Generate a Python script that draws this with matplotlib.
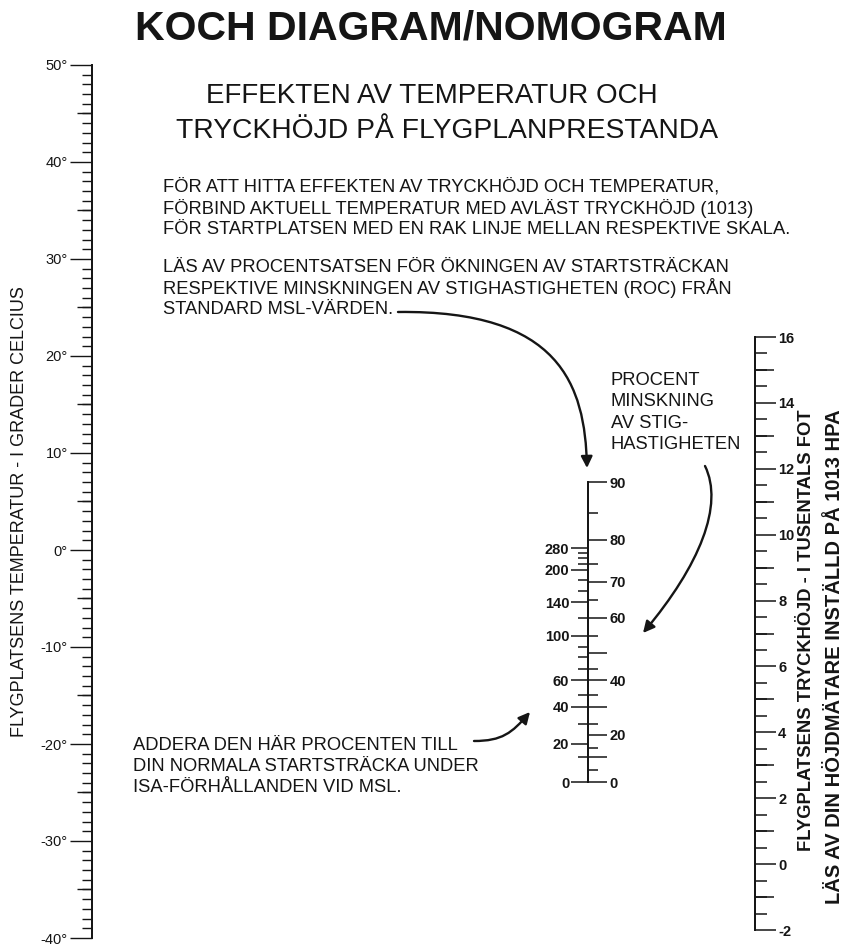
import numpy as np
import matplotlib
matplotlib.use("Agg")
import matplotlib.pyplot as plt
from matplotlib.path import Path
from matplotlib.patches import FancyArrowPatch

plt.rcParams['font.family'] = ['Liberation Sans', 'DejaVu Sans']

INK = '#151515'
W, H = 845, 947

# --- Skalor (avlästa från nomogrammet) ---
# Temperaturskala, grader Celsius
TEMP_LIMITS = (-40, 50)
TEMP_LABELED = np.arange(-40, 51, 10)
TEMP_FIVES = np.arange(-35, 50, 10)
TEMP_ONES = np.arange(-40, 51, 1)

# Tryckhöjd, tusentals fot
ALT_LIMITS = (-2, 16)
ALT_LABELED = np.arange(-2, 17, 2)
ALT_ODD = np.arange(-1, 16, 2)
ALT_HALF = np.arange(-2, 16.01, 0.5)

# Mittskalan: procent minskning av stighastighet (höger sida)
# höjd = relativ position längs skalan (0 = botten, 1 = toppen)
ROC_VALUES = [0, 5, 10, 15, 20, 25, 30, 35, 40, 45, 50, 55, 60, 65, 70, 75, 80, 85, 90]
ROC_HEIGHT = [0.0, 0.040, 0.083, 0.113, 0.157, 0.193, 0.250, 0.290, 0.340, 0.377,
              0.430, 0.487, 0.547, 0.607, 0.667, 0.727, 0.807, 0.897, 1.0]
ROC_LABELED = [0, 20, 40, 60, 70, 80, 90]

# Mittskalan: procent ökning av startsträcka (vänster sida)
TAKEOFF_VALUES = [0, 10, 20, 30, 40, 50, 60, 70, 80, 90, 100, 120, 140, 160, 180,
                  200, 220, 240, 260, 280]
TAKEOFF_HEIGHT = [0.0, 0.083, 0.127, 0.192, 0.250, 0.290, 0.340, 0.377, 0.417, 0.450,
                  0.487, 0.547, 0.600, 0.637, 0.673, 0.707, 0.727, 0.747, 0.763, 0.780]
TAKEOFF_LABELED = [0, 20, 40, 60, 100, 140, 200, 280]


def interp_ext(x, xp, fp):
    """np.interp med linjär extrapolering utanför ändpunkterna."""
    x = np.asarray(x, dtype=float)
    xp = np.asarray(xp, dtype=float)
    fp = np.asarray(fp, dtype=float)
    y = np.interp(x, xp, fp)
    hi_slope = (fp[-1] - fp[-2]) / (xp[-1] - xp[-2])
    lo_slope = (fp[1] - fp[0]) / (xp[1] - xp[0])
    y = np.where(x > xp[-1], fp[-1] + (x - xp[-1]) * hi_slope, y)
    y = np.where(x < xp[0], fp[0] + (x - xp[0]) * lo_slope, y)
    return y


def scale_axes(fig, x, y_top, y_bot):
    # smal axes vars spine blir själva skalan
    ax = fig.add_axes([x / W, 1 - y_bot / H, 1e-4, (y_bot - y_top) / H])
    ax.set_xticks([])
    for s in ax.spines.values():
        s.set_visible(False)
    ax.patch.set_visible(False)
    return ax


fig = plt.figure(figsize=(W / 100, H / 100), dpi=100)
fig.patch.set_facecolor('white')

# 1. Temperaturskala (vänster)
ax_t = scale_axes(fig, 92, 65, 938)
ax_t.set_ylim(*TEMP_LIMITS)
ax_t.spines['left'].set_visible(True)
ax_t.spines['left'].set_linewidth(1.3)
ax_t.spines['left'].set_color(INK)
ax_t.set_yticks(TEMP_LABELED, [f'{v}°' for v in TEMP_LABELED])
ax_t.set_yticks(TEMP_ONES, minor=True)
ax_t.tick_params(axis='y', which='major', direction='out', length=16, width=1.0,
                 pad=1.5, labelsize=10.5, colors=INK)
ax_t.tick_params(axis='y', which='minor', direction='out', length=7, width=1.0, colors=INK)
t_five = ax_t.secondary_yaxis('left')
t_five.set_ticks(TEMP_FIVES)
t_five.tick_params(axis='y', length=11, width=1.0, labelleft=False, colors=INK)
t_five.spines['left'].set_linewidth(1.3)
t_five.spines['left'].set_color(INK)

# 2. Tryckhöjdsskala (höger)
ax_a = scale_axes(fig, 755, 337, 930)
ax_a.set_ylim(*ALT_LIMITS)
ax_a.spines['right'].set_visible(True)
ax_a.spines['right'].set_linewidth(1.3)
ax_a.spines['right'].set_color(INK)
ax_a.yaxis.tick_right()
ax_a.set_yticks(ALT_LABELED, [str(v) for v in ALT_LABELED])
ax_a.set_yticks(ALT_HALF, minor=True)
ax_a.tick_params(axis='y', which='major', direction='out', length=15, width=1.1,
                 pad=1.5, labelsize=10.5, labelcolor=INK, colors=INK)
ax_a.tick_params(axis='y', which='minor', direction='out', length=8.5, width=1.1, colors=INK)
for lab in ax_a.get_yticklabels():
    lab.set_fontweight('bold')
a_odd = ax_a.secondary_yaxis('right')
a_odd.set_ticks(ALT_ODD)
a_odd.tick_params(axis='y', length=13.5, width=1.1, labelright=False, colors=INK)
a_odd.spines['right'].set_linewidth(1.3)
a_odd.spines['right'].set_color(INK)

# 3. Mittskalan
ax_m = scale_axes(fig, 588, 482, 782)
ax_m.set_ylim(0, 1)
ax_m.set_yticks([])

roc = ax_m.secondary_yaxis('right', functions=(
    lambda h: interp_ext(h, ROC_HEIGHT, ROC_VALUES),
    lambda v: interp_ext(v, ROC_VALUES, ROC_HEIGHT)))
roc_major = [v for v in ROC_VALUES if v % 10 == 0]
roc.set_ticks(roc_major, labels=[str(v) if v in ROC_LABELED else '' for v in roc_major])
roc.set_ticks([v for v in ROC_VALUES if v % 10 != 0], minor=True)
roc.tick_params(axis='y', which='major', length=14, width=1.1, pad=1.5,
                labelsize=10.5, colors=INK)
roc.tick_params(axis='y', which='minor', length=7, width=1.1, colors=INK)
roc.spines['right'].set_linewidth(1.3)
roc.spines['right'].set_color(INK)

tko = ax_m.secondary_yaxis('left', functions=(
    lambda h: interp_ext(h, TAKEOFF_HEIGHT, TAKEOFF_VALUES),
    lambda v: interp_ext(v, TAKEOFF_VALUES, TAKEOFF_HEIGHT)))
tko.set_ticks(TAKEOFF_LABELED, labels=[str(v) for v in TAKEOFF_LABELED])
tko.set_ticks([v for v in TAKEOFF_VALUES if v not in TAKEOFF_LABELED], minor=True)
tko.tick_params(axis='y', which='major', length=12, width=1.1, pad=1.5,
                labelsize=10.5, colors=INK)
tko.tick_params(axis='y', which='minor', length=7, width=1.1, colors=INK)
tko.spines['left'].set_linewidth(1.3)
tko.spines['left'].set_color(INK)
for sec in (roc, tko):
    for lab in sec.get_yticklabels():
        lab.set_fontweight('bold')

# 4. Texter och pilar (pixelkoordinater)
ov = fig.add_axes([0, 0, 1, 1], zorder=5)
ov.set_xlim(0, W)
ov.set_ylim(H, 0)
ov.axis('off')

ov.text(431, 28, 'KOCH DIAGRAM/NOMOGRAM', ha='center', va='center',
        fontsize=29.5, fontweight='bold', color=INK)
ov.text(432, 96, 'EFFEKTEN AV TEMPERATUR OCH', ha='center', va='center',
        fontsize=20, color=INK)
ov.text(447, 131, 'TRYCKHÖJD PÅ FLYGPLANPRESTANDA', ha='center', va='center',
        fontsize=20.3, color=INK)


def block(x, y0, lines, step=21, **kw):
    for i, line in enumerate(lines):
        ov.text(x, y0 + i * step, line, ha='left', va='center', color=INK, **kw)


BODY = 13.2
block(163, 187, ['FÖR ATT HITTA EFFEKTEN AV TRYCKHÖJD OCH TEMPERATUR,',
                 'FÖRBIND AKTUELL TEMPERATUR MED AVLÄST TRYCKHÖJD (1013)',
                 'FÖR STARTPLATSEN MED EN RAK LINJE MELLAN RESPEKTIVE SKALA.'],
      fontsize=BODY)
block(163, 267, ['LÄS AV PROCENTSATSEN FÖR ÖKNINGEN AV STARTSTRÄCKAN',
                 'RESPEKTIVE MINSKNINGEN AV STIGHASTIGHETEN (ROC) FRÅN',
                 'STANDARD MSL-VÄRDEN.'],
      fontsize=BODY)
block(611, 380, ['PROCENT', 'MINSKNING', 'AV STIG-', 'HASTIGHETEN'],
      step=21.5, fontsize=BODY)
block(133, 745, ['ADDERA DEN HÄR PROCENTEN TILL',
                 'DIN NORMALA STARTSTRÄCKA UNDER',
                 'ISA-FÖRHÅLLANDEN VID MSL.'],
      fontsize=BODY)

ov.text(20, 512, 'FLYGPLATSENS TEMPERATUR - I GRADER CELCIUS', rotation=90,
        ha='center', va='center', fontsize=13, color=INK)
ov.text(807, 630, 'FLYGPLATSENS TRYCKHÖJD - I TUSENTALS FOT', rotation=90,
        ha='center', va='center', fontsize=13.2, fontweight='bold', color=INK)
ov.text(835, 657, 'LÄS AV DIN HÖJDMÄTARE INSTÄLLD PÅ 1013 HPA', rotation=90,
        ha='center', va='center', fontsize=14.5, fontweight='bold', color=INK)

CURVE = [Path.MOVETO, Path.CURVE4, Path.CURVE4, Path.CURVE4]
arrows = [
    [(398, 312), (560, 310), (585, 385), (587, 468)],
    [(705, 466), (724, 505), (700, 565), (643, 633)],
    [(474, 741), (502, 741), (512, 733), (530, 712)],
]
for pts in arrows:
    ov.add_patch(FancyArrowPatch(path=Path(pts, CURVE), arrowstyle='-|>',
                                 mutation_scale=17, lw=1.7, color=INK))

fig.savefig('out.png', dpi=100, facecolor='white')
